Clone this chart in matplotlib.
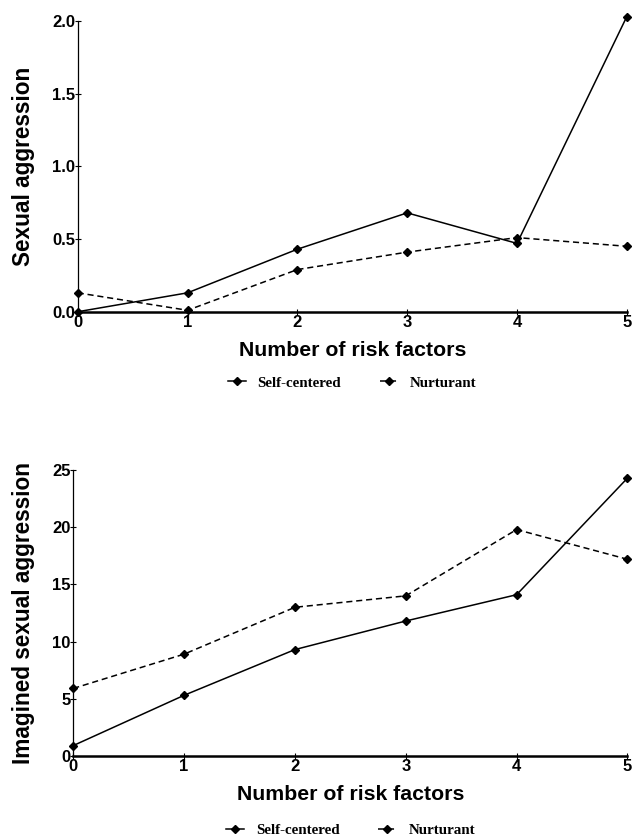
import numpy as np
import matplotlib
matplotlib.use('Agg')
import matplotlib.pyplot as plt

# data
risk_factors = [0, 1, 2, 3, 4, 5]
sexual_self = [0.0, 0.13, 0.43, 0.68, 0.47, 2.03]
sexual_nurt = [0.13, 0.01, 0.29, 0.41, 0.51, 0.45]
imagined_self = [0.9, 5.3, 9.3, 11.8, 14.1, 24.3]
imagined_nurt = [5.9, 8.9, 13.0, 14.0, 19.8, 17.2]

top_yticks = [0.0, 0.5, 1.0, 1.5, 2.0]
bottom_yticks = [0, 5, 10, 15, 20, 25]

plt.rcParams['font.family'] = 'Liberation Sans'

fig = plt.figure(figsize=(6.37, 8.38), dpi=100)
ax1 = fig.add_axes([0.122, 0.628, 0.862, 0.347])
ax2 = fig.add_axes([0.115, 0.098, 0.870, 0.341])


def style(ax, yticks, ylabels, ylabel, ypad):
    for s in ['top', 'right']:
        ax.spines[s].set_visible(False)
    ax.spines['bottom'].set_linewidth(1.8)
    ax.spines['left'].set_linewidth(0.9)
    ax.set_xlim(0, 5)
    ax.set_ylim(yticks[0], yticks[-1])
    ax.set_xticks(risk_factors)
    ax.set_yticks(yticks)
    ax.set_yticklabels(ylabels)
    ax.tick_params(direction='inout', length=4, width=0.8, labelsize=12, pad=0)
    for lab in ax.get_xticklabels() + ax.get_yticklabels():
        lab.set_fontweight('bold')
    ax.set_xlabel('Number of risk factors', fontsize=15.3, fontweight='bold', labelpad=8)
    ax.set_ylabel(ylabel, fontsize=16.3, fontweight='bold', labelpad=ypad)


def draw(ax, s, n, legend_y):
    ax.plot(risk_factors, s, 'k-', marker='D', markersize=3.6, linewidth=1.1,
            label='Self-centered', clip_on=False)
    ax.plot(risk_factors, n, 'k--', marker='D', markersize=3.6, linewidth=1.1,
            label='Nurturant', clip_on=False, dashes=(4, 2.5))
    ax.legend(loc='center', bbox_to_anchor=(0.5, legend_y), ncol=2, frameon=False,
              handlelength=1.2, columnspacing=2.6, handletextpad=0.8,
              prop={'family': 'Liberation Serif', 'weight': 'bold', 'size': 10.8})


draw(ax1, sexual_self, sexual_nurt, -0.245)
style(ax1, top_yticks, ['0.0', '0.5', '1.0', '1.5', '2.0'], 'Sexual aggression', 12)

draw(ax2, imagined_self, imagined_nurt, -0.26)
style(ax2, bottom_yticks, [str(v) for v in bottom_yticks], 'Imagined sexual aggression', 12)

fig.savefig('out.png', dpi=100)
